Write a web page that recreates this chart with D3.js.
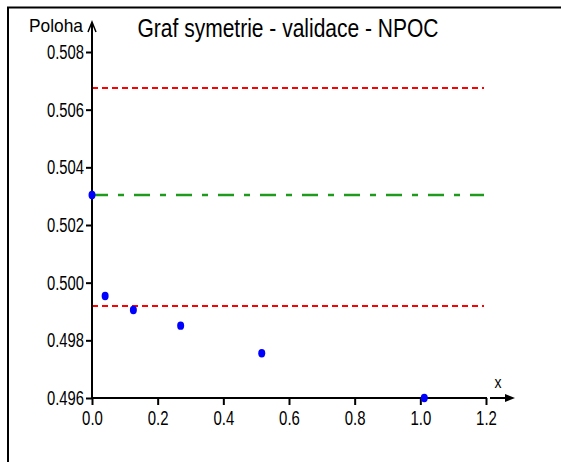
<!DOCTYPE html>
<html>
<head>
<meta charset="utf-8">
<script src="https://cdn.jsdelivr.net/npm/d3@7"></script>
<style>
  html, body { margin: 0; padding: 0; background: #fff; }
  svg { display: block; }
  text { font-family: "Liberation Sans Narrow", "Arial Narrow", "Liberation Sans", Arial, sans-serif; fill: #000; }
</style>
</head>
<body>
<svg id="chart" width="561" height="462"></svg>
<script>
// Measured points (x, Poloha)
const xValues = [0.0, 0.04, 0.126, 0.27, 0.517, 1.012];
const yValues = [0.50304, 0.49954, 0.49905, 0.49851, 0.49755, 0.4960];

// Reference lines: upper limit, centre value, lower limit
const upperLimit = [0.50675];
const centerLine = [0.50304];
const lowerLimit = [0.49919];

// Axis ticks
const xTicks = [0, 0.2, 0.4, 0.6, 0.8, 1.0, 1.2];
const yTicks = [0.496, 0.498, 0.500, 0.502, 0.504, 0.506, 0.508];

const titleText = "Graf symetrie - validace - NPOC";
const yLabel = "Poloha";
const xLabel = "x";

const svg = d3.select("#chart");

const x = d3.scaleLinear().domain([0, 1.2]).range([92, 486]);
const y = d3.scaleLinear().domain([0.496, 0.508]).range([398, 52]);

// Condensed look for labels: squeeze each string to a narrow width
const narrow = (sel, perChar, dot) => sel
  .attr("textLength", function () {
    const s = this.textContent;
    let w = 0;
    for (const c of s) w += (c === "." ? dot : perChar);
    return w;
  })
  .attr("lengthAdjust", "spacingAndGlyphs");

// Frame (top and left edges)
svg.append("line").attr("x1", 7).attr("x2", 561).attr("y1", 7.5).attr("y2", 7.5)
  .attr("stroke", "#000").attr("stroke-width", 2);
svg.append("line").attr("x1", 8).attr("x2", 8).attr("y1", 7).attr("y2", 462)
  .attr("stroke", "#000").attr("stroke-width", 2);

// Title
svg.append("text")
  .attr("x", 288).attr("y", 37)
  .attr("text-anchor", "middle")
  .attr("font-size", 26)
  .attr("textLength", 301)
  .attr("lengthAdjust", "spacingAndGlyphs")
  .attr("fill", "#1a1a1a")
  .text(titleText);

// Reference lines
const lineX1 = x(0), lineX2 = 484;
svg.selectAll("line.upper").data(upperLimit).join("line").attr("class", "upper")
  .attr("x1", lineX1).attr("x2", lineX2)
  .attr("y1", d => y(d)).attr("y2", d => y(d))
  .attr("stroke", "#ff0000").attr("stroke-width", 2).attr("stroke-dasharray", "6,4");
svg.selectAll("line.lower").data(lowerLimit).join("line").attr("class", "lower")
  .attr("x1", lineX1).attr("x2", lineX2)
  .attr("y1", d => y(d)).attr("y2", d => y(d))
  .attr("stroke", "#ff0000").attr("stroke-width", 2).attr("stroke-dasharray", "6,4");
svg.selectAll("line.center").data(centerLine).join("line").attr("class", "center")
  .attr("x1", lineX1).attr("x2", lineX2)
  .attr("y1", d => y(d)).attr("y2", d => y(d))
  .attr("stroke", "#1f9a1f").attr("stroke-width", 2.5).attr("stroke-dasharray", "16,10,6,10");

// Y axis
const yAxis = d3.axisLeft(y).tickValues(yTicks).tickFormat(d3.format(".3f"))
  .tickSize(6).tickSizeOuter(0).tickPadding(2);
const gy = svg.append("g").attr("transform", "translate(92,0)").call(yAxis);
gy.select(".domain").remove();
gy.selectAll(".tick line").attr("stroke", "#000").attr("stroke-width", 2);
gy.selectAll(".tick text").attr("font-size", 20).attr("font-family", null).attr("fill", "#000")
  .call(narrow, 8.4, 3.4);

// Y axis line with arrow
svg.append("line").attr("x1", 92).attr("x2", 92).attr("y1", 399).attr("y2", 23)
  .attr("stroke", "#000").attr("stroke-width", 2);
svg.append("polyline").attr("points", "88,32 92,22 96,32")
  .attr("fill", "none").attr("stroke", "#000").attr("stroke-width", 1.5);

// X axis
const xAxis = d3.axisBottom(x).tickValues(xTicks).tickFormat(d3.format(".1f"))
  .tickSize(7).tickSizeOuter(0).tickPadding(5);
const gx = svg.append("g").attr("transform", "translate(0,398)").call(xAxis);
gx.select(".domain").remove();
gx.selectAll(".tick line").attr("stroke", "#000").attr("stroke-width", 2);
gx.selectAll(".tick text").attr("font-size", 21).attr("font-family", null).attr("fill", "#000")
  .call(narrow, 8.6, 3.6);
svg.append("line").attr("x1", 91).attr("x2", x(1.2) + 1).attr("y1", 398).attr("y2", 398)
  .attr("stroke", "#000").attr("stroke-width", 2);

// X axis arrow
svg.append("line").attr("x1", 490).attr("x2", 508).attr("y1", 398).attr("y2", 398)
  .attr("stroke", "#000").attr("stroke-width", 2);
svg.append("path").attr("d", "M505,394 L515,398 L505,402 Z").attr("fill", "#000");

// Axis labels
svg.append("text").attr("x", 29).attr("y", 32)
  .attr("font-size", 19).attr("textLength", 54).attr("lengthAdjust", "spacingAndGlyphs")
  .text(yLabel);
svg.append("text").attr("x", 498).attr("y", 388).attr("text-anchor", "middle")
  .attr("font-size", 16).attr("textLength", 7).attr("lengthAdjust", "spacingAndGlyphs")
  .text(xLabel);

// Data points
svg.selectAll("ellipse.pt").data(xValues).join("ellipse").attr("class", "pt")
  .attr("cx", d => x(d))
  .attr("cy", (d, i) => y(yValues[i]))
  .attr("rx", 3.5).attr("ry", 4.2)
  .attr("fill", "#0000ff");
</script>
</body>
</html>
